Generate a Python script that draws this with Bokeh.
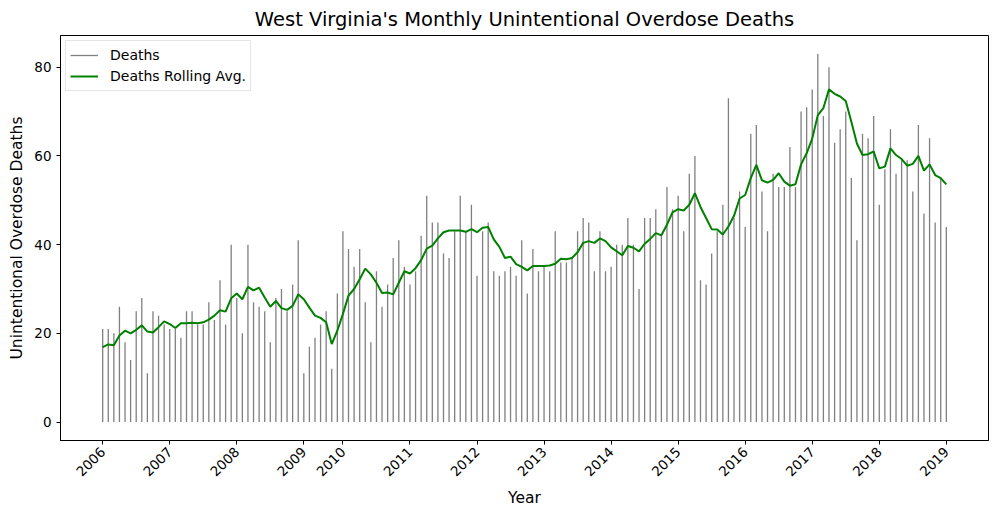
import math
import pandas as pd
from bokeh.plotting import figure
from bokeh.models import FixedTicker, Range1d, ColumnDataSource
from bokeh.embed import file_html
from bokeh.resources import INLINE

# Months present in the data (five months of 2009 are missing)
missing_months = ["2009-08", "2009-09", "2009-10", "2009-11", "2009-12"]
months = [str(m) for m in pd.period_range("2006-01", "2019-01", freq="M") if str(m) not in missing_months]

deaths = [
    21, 21, 20, 26, 18, 14, 25, 28, 11, 25, 24, 22,
    21, 21, 19, 25, 25, 22, 22, 27, 23, 32, 22, 40,
    28, 20, 40, 27, 26, 25, 18, 28, 30, 25, 31, 41,
    11, 17, 19, 22, 25, 12, 29,
    43, 39, 35, 39, 27, 18, 34, 26, 31, 37, 41, 35,
    31, 34, 42, 51, 45, 45, 38, 37, 43, 51, 43, 49,
    33, 43, 45, 34, 33, 34, 35, 33, 41, 29, 39, 34,
    35, 34, 43, 36, 36, 37, 43, 46, 45, 34, 43, 34,
    35, 40, 40, 46, 40, 30, 46, 46, 48, 42, 53, 48,
    51, 43, 56, 60, 32, 31, 38, 43, 49, 73, 46, 52,
    44, 65, 67, 52, 43, 56, 53, 53, 62, 53, 70, 71,
    75, 83, 69, 80, 63, 66, 70, 55, 41, 65, 64, 69,
    49, 57, 66, 56, 59, 59, 52, 67, 47, 64, 45, 55,
    44,
]

rolling_avg = [
    16.9, 17.5, 17.3, 19.5, 20.6, 20.0, 20.8, 21.8, 20.4, 20.2, 21.4, 22.7,
    22.1, 21.2, 22.3, 22.3, 22.4, 22.3, 22.5, 23.1, 24.0, 25.2, 24.9, 27.9,
    29.0, 27.7, 30.5, 29.7, 30.3, 28.1, 26.0, 27.3, 25.7, 25.3, 26.2, 28.8,
    27.7, 25.8, 24.0, 23.5, 22.5, 17.6, 20.6,
    24.4, 28.5, 30.0, 32.2, 34.6, 33.3, 31.4, 29.1, 29.2, 28.8, 31.4, 34.0,
    33.5, 34.7, 36.5, 39.1, 39.8, 41.4, 42.8, 43.2, 43.2, 43.2, 42.9, 43.5,
    42.8, 43.8, 44.0, 41.2, 39.5, 37.0, 37.3, 35.6, 35.0, 34.2, 35.2, 35.2,
    35.2, 35.3, 35.7, 36.8, 36.7, 37.0, 38.3, 40.4, 40.8, 40.4, 41.4, 40.8,
    39.4, 38.5, 37.6, 39.7, 39.3, 38.5, 40.2, 41.3, 42.6, 42.1, 44.5, 47.3,
    48.0, 47.7, 49.0, 51.6, 48.5, 46.0, 43.5, 43.4, 42.3, 44.1, 46.5, 50.4,
    51.2, 55.0, 58.0, 54.5, 54.0, 54.6, 56.1, 54.2, 53.3, 53.6, 58.1, 60.6,
    63.9, 69.2, 70.8, 75.0, 74.0, 73.4, 72.4, 67.7, 62.8, 60.2, 60.4, 61.0,
    57.2, 57.6, 61.7, 60.2, 59.3, 57.8, 58.2, 60.0, 56.7, 58.1, 55.7, 55.0,
    53.6,
]

idx = list(range(len(months)))
src = ColumnDataSource(dict(x=idx, zero=[0] * len(idx), deaths=deaths, avg=rolling_avg, month=months))

# tick at first month of each year
year_ticks = {}
for i, m in enumerate(months):
    y = m[:4]
    if y not in year_ticks:
        year_ticks[y] = i

n = len(idx) - 1
pad_x = 0.05 * n
ymax = max(deaths)
pad_y = 0.05 * ymax

p = figure(width=997, height=519, output_backend="svg", toolbar_location=None,
           x_range=Range1d(-pad_x, n + pad_x), y_range=Range1d(-pad_y, ymax + pad_y))
p.min_border_left = 60
p.min_border_right = 9
p.min_border_top = 35
p.min_border_bottom = 79

p.segment(x0="x", y0="zero", x1="x", y1="deaths", source=src, line_color="gray",
          line_width=1.3, legend_label="Deaths")
p.line(x="x", y="avg", source=src, line_color="green", line_width=2,
       legend_label="Deaths Rolling Avg.")

p.title.text = "West Virginia's Monthly Unintentional Overdose Deaths"
p.title.align = "center"
p.title.text_font = "DejaVu Sans"
p.title.text_font_size = "19.5px"
p.title.text_font_style = "normal"
p.title.text_color = "black"

p.xaxis.ticker = FixedTicker(ticks=list(year_ticks.values()))
p.xaxis.major_label_overrides = {v: k for k, v in year_ticks.items()}
p.xaxis.major_label_orientation = math.pi / 4
p.yaxis.ticker = FixedTicker(ticks=[0, 20, 40, 60, 80])

p.xaxis.axis_label = "Year"
p.yaxis.axis_label = "Unintentional Overdose Deaths"
for ax in (p.xaxis, p.yaxis):
    ax.axis_label_text_font = "DejaVu Sans"
    ax.axis_label_text_font_style = "normal"
    ax.axis_label_text_font_size = "15.5px"
    ax.axis_label_text_color = "black"
    ax.major_label_text_font = "DejaVu Sans"
    ax.major_label_text_font_size = "13.5px"
    ax.major_label_text_color = "black"
    ax.minor_tick_line_color = None
    ax.major_tick_in = 0
    ax.major_tick_out = 4
    ax.axis_line_color = "black"
    ax.major_tick_line_color = "black"

p.xgrid.visible = False
p.ygrid.visible = False
p.outline_line_color = "black"
p.outline_line_alpha = 1

p.legend.location = "top_left"
p.legend.label_text_font = "DejaVu Sans"
p.legend.label_text_font_size = "14px"
p.legend.label_text_color = "black"
p.legend.border_line_color = "#cccccc"
p.legend.background_fill_alpha = 0.8
p.legend.glyph_width = 28
p.legend.label_standoff = 12
p.legend.spacing = 1
p.legend.padding = 4
p.legend.margin = 5

open("out.html", "w").write(file_html(p, INLINE))
